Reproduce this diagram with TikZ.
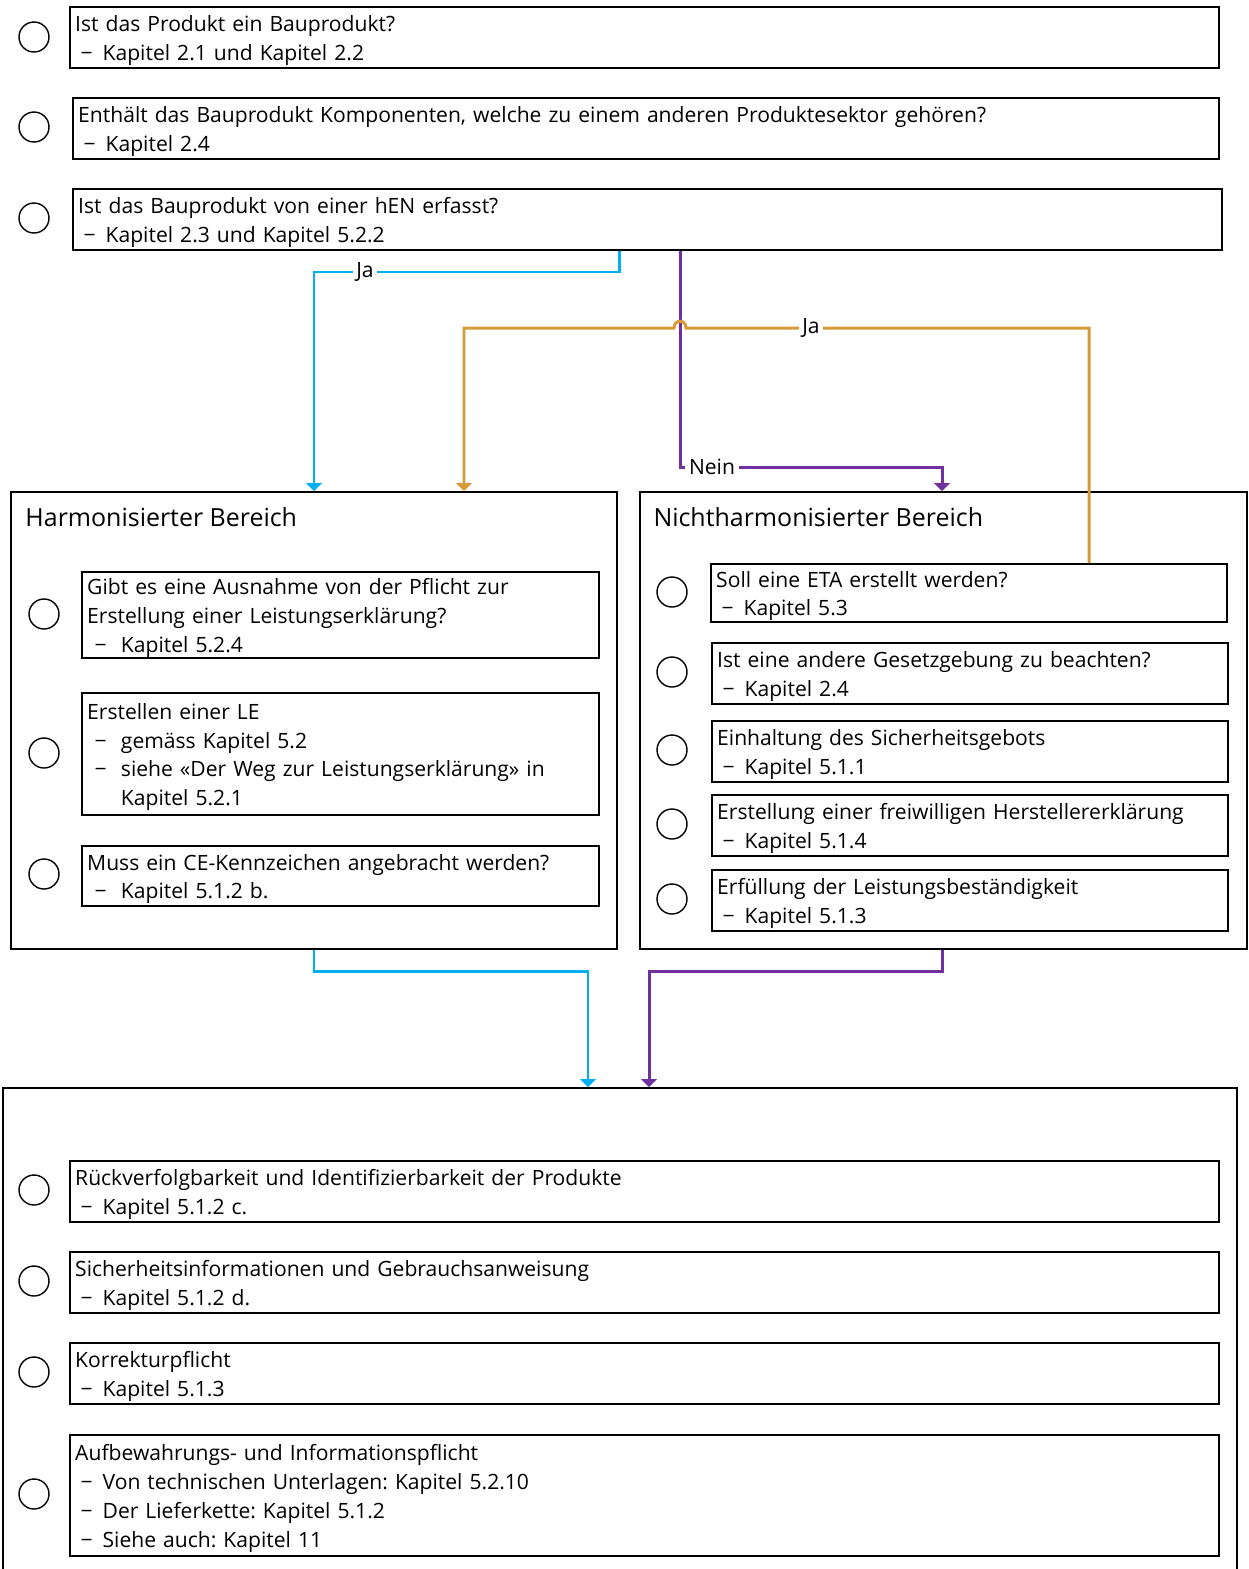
\documentclass[tikz,border=0pt]{standalone}
\usepackage{fontspec}
\setmainfont{Open Sans}
\usetikzlibrary{arrows.meta}
\frenchspacing

\definecolor{blau}{RGB}{0,176,240}
\definecolor{lila}{RGB}{112,48,160}
\definecolor{gold}{RGB}{214,155,56}

% Aufzaehlungsstriche
\newcommand{\strich}{\makebox[1.3em][l]{\hspace{0.25em}−}}
\newcommand{\punkt}{\makebox[1.6em][l]{\hspace{0.35em}−}}
% erste Zeile etwas tiefer setzen
\newcommand{\oben}{\rule{0pt}{12.5pt}}

\begin{document}
\begin{tikzpicture}[x = 0.02cm, y = -0.02cm, % pixel grid
                > = {Triangle[width=9pt,length=4.5pt]}, % arrow head style
                line width = 1.7pt, % connector style
                every node/.style = {font=\fontsize{12}{16.4}\selectfont}
            ]

            \tikzstyle{box}=[draw = black, line width = 1.1pt, anchor = north west,
            align = left, inner xsep = 3pt, inner ysep = 0pt, minimum height = 1.22cm]
            \tikzstyle{bereich}=[draw = black, line width = 1.1pt, anchor = north west,
            inner sep = 0pt]
            \tikzstyle{kreis}=[draw = black, circle, line width = 0.8pt,
            inner sep = 0pt, minimum size = 0.6cm]
            \tikzstyle{titel}=[anchor = west, inner sep = 0pt,
            font = \fontsize{14.2}{16}\selectfont]
            \tikzstyle{lbl}=[fill = white, inner xsep = 2pt, inner ysep = 1pt]

            \useasboundingbox (0,0) rectangle (1248,1569);

            % Fragen oben
            \node (k1) [kreis] at (34,37) {};
            \node (q1) [box, text width = 22.77cm] at (69,6)
            {\oben Ist das Produkt ein Bauprodukt?\\ \strich Kapitel 2.1 und Kapitel 2.2};
            \node (k2) [kreis] at (34,127) {};
            \node (q2) [box, text width = 22.71cm] at (72,97)
            {\oben Enthält das Bauprodukt Komponenten, welche zu einem anderen Produktesektor gehören?\\ \strich Kapitel 2.4};
            \node (k3) [kreis] at (34,218) {};
            \node (q3) [box, text width = 22.77cm] at (72,188)
            {\oben Ist das Bauprodukt von einer hEN erfasst?\\ \strich Kapitel 2.3 und Kapitel 5.2.2};

            % harmonisierter Bereich
            \node (hb) [bereich, minimum width = 12.12cm, minimum height = 9.14cm] at (10,491) {};
            \node (hbt) [titel] at (24,517) {Harmonisierter Bereich};
            \node (hk1) [kreis] at (44,614) {};
            \node (h1) [box, text width = 10.13cm, minimum height = 1.72cm] at (81,571)
            {\oben Gibt es eine Ausnahme von der Pflicht zur\\ Erstellung einer Leistungserklärung?\\ \punkt Kapitel 5.2.4};
            \node (hk2) [kreis] at (44,753) {};
            \node (h2) [box, text width = 10.13cm, minimum height = 2.44cm] at (81,692)
            {\oben Erstellen einer LE\\ \punkt gemäss Kapitel 5.2\\ \punkt siehe «Der Weg zur Leistungserklärung» in\\ \hspace*{1.6em}Kapitel 5.2.1};
            \node (hk3) [kreis] at (44,874) {};
            \node (h3) [box, text width = 10.13cm, minimum height = 1.2cm] at (81,845)
            {\oben Muss ein CE-Kennzeichen angebracht werden?\\ \punkt Kapitel 5.1.2 b.};

            % nichtharmonisierter Bereich
            \node (nb) [bereich, minimum width = 12.14cm, minimum height = 9.14cm] at (639,491) {};
            \node (nbt) [titel] at (652,517) {Nichtharmonisierter Bereich};
            \node (nk1) [kreis] at (672,592) {};
            \node (n1) [box, text width = 10.11cm, minimum height = 1.16cm] at (710,563)
            {\oben Soll eine ETA erstellt werden?\\ \strich Kapitel 5.3};
            \node (nk2) [kreis] at (672,672) {};
            \node (n2) [box, text width = 10.11cm] at (711,642)
            {\oben Ist eine andere Gesetzgebung zu beachten?\\ \strich Kapitel 2.4};
            \node (nk3) [kreis] at (672,750) {};
            \node (n3) [box, text width = 10.11cm] at (711,720)
            {\oben Einhaltung des Sicherheitsgebots\\ \strich Kapitel 5.1.1};
            \node (nk4) [kreis] at (672,824) {};
            \node (n4) [box, text width = 10.11cm] at (711,794)
            {\oben Erstellung einer freiwilligen Herstellererklärung\\ \strich Kapitel 5.1.4};
            \node (nk5) [kreis] at (672,899) {};
            \node (n5) [box, text width = 10.11cm] at (711,869)
            {\oben Erfüllung der Leistungsbeständigkeit\\ \strich Kapitel 5.1.3};

            % Pflichten unten
            \node (pb) [bereich, minimum width = 24.68cm, minimum height = 10cm] at (2,1087) {};
            \node (pk1) [kreis] at (34,1190) {};
            \node (p1) [box, text width = 22.77cm] at (69,1160)
            {\oben Rückverfolgbarkeit und Identifizierbarkeit der Produkte\\ \strich Kapitel 5.1.2 c.};
            \node (pk2) [kreis] at (34,1281) {};
            \node (p2) [box, text width = 22.77cm] at (69,1251)
            {\oben Sicherheitsinformationen und Gebrauchsanweisung\\ \strich Kapitel 5.1.2 d.};
            \node (pk3) [kreis] at (34,1372) {};
            \node (p3) [box, text width = 22.77cm] at (69,1342)
            {\oben Korrekturpflicht\\ \strich Kapitel 5.1.3};
            \node (pk4) [kreis] at (34,1494) {};
            \node (p4) [box, text width = 22.77cm, minimum height = 2.42cm] at (69,1434)
            {\oben Aufbewahrungs- und Informationspflicht\\ \strich Von technischen Unterlagen: Kapitel 5.2.10\\ \strich Der Lieferkette: Kapitel 5.1.2\\ \strich Siehe auch: Kapitel 11};

            % Knickpunkte
            \coordinate (ja1) at (619,272); \coordinate (ja2) at (314,272);
            \coordinate (ne1) at (680,467); \coordinate (ne2) at (942,467);
            \coordinate (jb1) at (1089,328); \coordinate (jb2) at (464,328);
            \coordinate (ub1) at (314,971); \coordinate (ub2) at (588,971);
            \coordinate (ul1) at (942,971); \coordinate (ul2) at (649,971);

            \draw[blau, ->] (q3.south -| ja1) -- (ja1) -- (ja2) -- (ja2 |- hb.north);
            \draw[lila, ->] (q3.south -| ne1) -- (ne1) -- (ne2) -- (ne2 |- nb.north);
            \draw[gold, ->] (n1.north -| jb1) -- (jb1) -- (686,328)
            .. controls (686,319) and (674,319) .. (674,328) -- (jb2) -- (jb2 |- hb.north);
            \draw[blau, ->] (hb.south -| ub1) -- (ub1) -- (ub2) -- (ub2 |- pb.north);
            \draw[lila, ->] (nb.south -| ul1) -- (ul1) -- (ul2) -- (ul2 |- pb.north);

            \node (lja1) [lbl] at (365,272) {Ja};
            \node (lja2) [lbl] at (811,328) {Ja};
            \node (lnein) [lbl] at (712,467) {Nein};

        \end{tikzpicture}
\end{document}
